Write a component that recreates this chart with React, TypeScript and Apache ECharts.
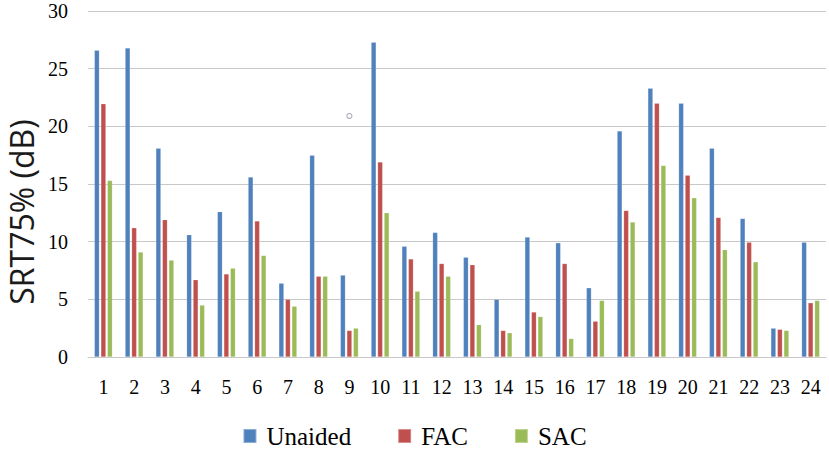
import React, { useEffect, useRef } from "react";
import * as echarts from "echarts";

const categories = ["1","2","3","4","5","6","7","8","9","10","11","12","13","14","15","16","17","18","19","20","21","22","23","24"];
const unaided = [26.6, 26.8, 18.1, 10.6, 12.6, 15.6, 6.4, 17.5, 7.1, 27.3, 9.6, 10.8, 8.65, 5.0, 10.4, 9.9, 6.0, 19.6, 23.3, 22.0, 18.1, 12.0, 2.5, 9.95];
const fac = [21.95, 11.2, 11.9, 6.7, 7.2, 11.8, 5.0, 7.0, 2.3, 16.9, 8.5, 8.1, 8.0, 2.3, 3.9, 8.1, 3.1, 12.7, 22.0, 15.75, 12.1, 9.95, 2.4, 4.7];
const sac = [15.3, 9.1, 8.4, 4.5, 7.7, 8.8, 4.4, 7.0, 2.5, 12.5, 5.7, 7.0, 2.8, 2.1, 3.5, 1.6, 4.9, 11.7, 16.6, 13.8, 9.3, 8.25, 2.3, 4.9];
const strayMarker = [["9", 20.9]];
const yTicks = { min: 0, max: 30, interval: 5 };
const yAxisTitle = "SRT75% (dB)";

const serif = "Liberation Serif";

export default function App() {
  const ref = useRef<HTMLDivElement>(null);
  useEffect(() => {
    if (!ref.current) return;
    const chart = echarts.init(ref.current, undefined, { renderer: "svg" });
    const barStyle = (color: string) => ({
      type: "bar" as const,
      barWidth: 5,
      barGap: "30%",
      itemStyle: { color, borderColor: "rgba(255,255,255,0.35)", borderWidth: 0.5 },
    });
    chart.setOption({
      animation: false,
      backgroundColor: "#ffffff",
      grid: { left: 88, right: 3, top: 11, bottom: 96, containLabel: false },
      legend: {
        data: ["Unaided", "FAC", "SAC"],
        left: "center",
        top: 418,
        itemWidth: 13,
        itemHeight: 14,
        itemGap: 46,
        icon: "rect",
        textStyle: { fontFamily: serif, fontSize: 25, lineHeight: 26, color: "#000", padding: [0, 0, 0, 5] },
      },
      xAxis: {
        type: "category",
        data: categories,
        axisLine: { show: true, lineStyle: { color: "#c8c8c8", width: 1 } },
        axisTick: { show: false },
        axisLabel: { fontFamily: serif, fontSize: 20, color: "#000", margin: 20, interval: 0 },
      },
      yAxis: {
        type: "value",
        min: yTicks.min,
        max: yTicks.max,
        interval: yTicks.interval,
        axisLine: { show: false },
        axisTick: { show: false },
        axisLabel: { fontFamily: serif, fontSize: 20, color: "#000", margin: 20 },
        splitLine: { lineStyle: { color: "#c8c8c8", width: 1 } },
      },
      graphic: [
        {
          type: "text",
          x: 21,
          y: 212,
          rotation: Math.PI / 2,
          style: {
            text: yAxisTitle,
            fontFamily: "Open Sans",
            fontSize: 32,
            fill: "#1a1a1a",
            textAlign: "center",
            textVerticalAlign: "middle",
          },
        },
      ],
      series: [
        { name: "Unaided", data: unaided, ...barStyle("#4f81bd") },
        { name: "FAC", data: fac, ...barStyle("#c0504d") },
        { name: "SAC", data: sac, ...barStyle("#9bbb59") },
        {
          name: "marker",
          type: "scatter",
          data: strayMarker,
          symbol: "circle",
          symbolSize: 5,
          itemStyle: { color: "#ffffff", borderColor: "#a0a0b0", borderWidth: 1.2 },
          z: 5,
        },
      ],
    });
    return () => chart.dispose();
  }, []);
  return <div ref={ref} style={{ position: "fixed", left: 0, top: 0, width: 829, height: 453 }} />;
}
